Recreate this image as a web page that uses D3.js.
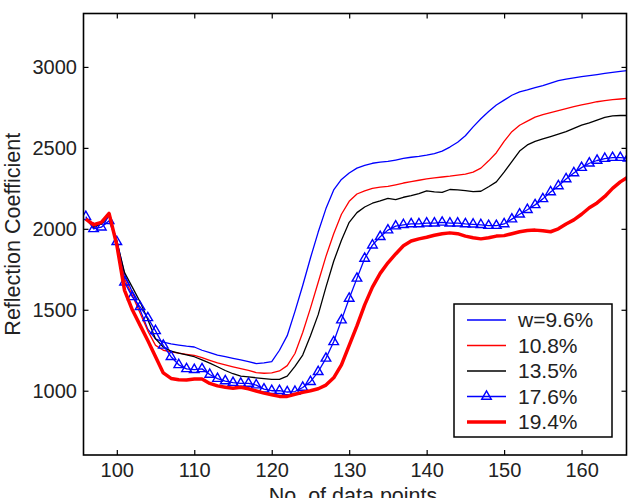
<!DOCTYPE html>
<meta charset="utf-8">
<style>

body {
  margin: 0;
  background: #fff;
}

.axis text {
  font: 20px "Liberation Sans", Arial, sans-serif;
  fill: #222;
}

.axis line {
  stroke: #000;
  stroke-width: 1.2;
}

.axis path {
  display: none;
}

.label {
  font: 21.5px "Liberation Sans", Arial, sans-serif;
  fill: #222;
}

.legend text {
  font: 21px "Liberation Sans", Arial, sans-serif;
  fill: #222;
}

</style>
<svg width="629" height="498"></svg>
<script src="https://d3js.org/d3.v7.min.js"></script>
<script>

// sample positions (No. of data points)
var points = [96, 97, 98, 99, 100, 101, 102, 103, 104, 105, 106, 107, 108, 109, 110,
  111, 112, 113, 114, 115, 116, 117, 118, 119, 120, 121, 122, 123, 124, 125,
  126, 127, 128, 129, 130, 131, 132, 133, 134, 135, 136, 137, 138, 139, 140,
  141, 142, 143, 144, 145, 146, 147, 148, 149, 150, 151, 152, 153, 154, 155,
  156, 157, 158, 159, 160, 161, 162, 163, 164, 165, 166];

var w96 = [2065, 2010, 2030, 2080, 1930, 1720, 1610, 1500, 1380, 1320, 1300, 1290, 1282, 1275, 1270,
  1250, 1235, 1220, 1210, 1200, 1190, 1180, 1168, 1172, 1180, 1250, 1340, 1490, 1650, 1820,
  1980, 2125, 2240, 2305, 2345, 2375, 2392, 2405, 2412, 2416, 2425, 2435, 2442, 2447, 2455,
  2465, 2480, 2505, 2535, 2575, 2630, 2680, 2725, 2765, 2795, 2825, 2846, 2858, 2872, 2885,
  2900, 2915, 2925, 2933, 2940, 2946, 2953, 2960, 2966, 2972, 2978];

var w108 = [2060, 2010, 2030, 2085, 1920, 1690, 1590, 1480, 1370, 1280, 1250, 1240, 1232, 1225, 1218,
  1205, 1188, 1172, 1160, 1148, 1136, 1125, 1112, 1108, 1110, 1122, 1155, 1230, 1360, 1510,
  1670, 1830, 1970, 2090, 2170, 2215, 2235, 2250, 2258, 2262, 2272, 2283, 2292, 2300, 2308,
  2315, 2320, 2325, 2332, 2338, 2350, 2375, 2420, 2470, 2540, 2600, 2640, 2665, 2690, 2705,
  2718, 2730, 2742, 2755, 2765, 2775, 2785, 2792, 2798, 2802, 2806];

var w135 = [2060, 2010, 2030, 2085, 1920, 1730, 1640, 1550, 1440, 1320, 1270, 1245, 1232, 1222, 1210,
  1190, 1170, 1148, 1125, 1105, 1090, 1085, 1080, 1075, 1070, 1070, 1090, 1150, 1220, 1340,
  1470, 1640, 1800, 1930, 2040, 2100, 2135, 2158, 2172, 2188, 2180, 2195, 2205, 2218, 2235,
  2228, 2225, 2243, 2240, 2236, 2230, 2232, 2260, 2290, 2350, 2415, 2480, 2518, 2540, 2555,
  2570, 2585, 2600, 2620, 2640, 2655, 2672, 2688, 2698, 2700, 2700];

var w176 = [2075, 2000, 2010, 2050, 1920, 1670, 1580, 1518, 1450, 1370, 1280, 1210, 1160, 1135, 1130,
  1135, 1100, 1075, 1060, 1050, 1045, 1045, 1035, 1010, 1000, 1000, 992, 995, 1020, 1056,
  1117, 1200, 1302, 1436, 1570, 1694, 1817, 1899, 1951, 1992, 2017, 2025, 2030, 2030, 2035,
  2035, 2040, 2035, 2035, 2030, 2028, 2025, 2020, 2020, 2030, 2060, 2090, 2118, 2148, 2185,
  2228, 2265, 2308, 2345, 2378, 2405, 2422, 2434, 2440, 2440, 2436];

var w194 = [2060, 2025, 2040, 2095, 1900, 1620, 1500, 1405, 1310, 1210, 1110, 1076, 1068, 1066, 1072,
  1072, 1045, 1030, 1022, 1015, 1022, 1012, 998, 985, 975, 965, 965, 978, 990, 1000,
  1012, 1035, 1080, 1160, 1280, 1400, 1530, 1640, 1725, 1790, 1845, 1895, 1925, 1938, 1948,
  1960, 1970, 1975, 1970, 1955, 1945, 1938, 1945, 1955, 1958, 1970, 1982, 1990, 1992, 1988,
  1982, 2000, 2030, 2055, 2090, 2130, 2160, 2200, 2250, 2290, 2320];

var xTicks = [100, 110, 120, 130, 140, 150, 160],
    yTicks = [1000, 1500, 2000, 2500, 3000];

var seriesNames = ["w=9.6%", "10.8%", "13.5%", "17.6%", "19.4%"];

var svg = d3.select("svg"),
    margin = {top: 13.5, right: 2.5, bottom: 43, left: 83.5},
    width = svg.attr("width") - margin.left - margin.right,
    height = svg.attr("height") - margin.top - margin.bottom;

var x = d3.scaleLinear()
    .domain([95.7, 165.8])
    .range([0, width]);

var y = d3.scaleLinear()
    .domain([603, 3330])
    .range([height, 0]);

var series = [
  {name: seriesNames[0], values: w96, color: "#0000ff", width: 1.3, marker: false},
  {name: seriesNames[1], values: w108, color: "#ff0000", width: 1.3, marker: false},
  {name: seriesNames[2], values: w135, color: "#000000", width: 1.3, marker: false},
  {name: seriesNames[3], values: w176, color: "#0000ff", width: 1.3, marker: true},
  {name: seriesNames[4], values: w194, color: "#ff0000", width: 3.5, marker: false}
];

var g = svg.append("g")
    .attr("transform", "translate(" + margin.left + "," + margin.top + ")");

g.append("clipPath")
    .attr("id", "clip")
  .append("rect")
    .attr("width", width)
    .attr("height", height);

var line = d3.line()
    .x(function(d) { return x(d[0]); })
    .y(function(d) { return y(d[1]); });

var tri = d3.symbol().type(d3.symbolTriangle).size(40);

var plot = g.append("g")
    .attr("clip-path", "url(#clip)");

series.forEach(function(s) {
  var data = points.map(function(p, i) { return [p, s.values[i]]; });

  plot.append("path")
      .datum(data)
      .attr("fill", "none")
      .attr("stroke", s.color)
      .attr("stroke-width", s.width)
      .attr("stroke-linejoin", "round")
      .attr("d", line);

  if (s.marker) {
    plot.append("g").selectAll("path")
        .data(data)
      .enter().append("path")
        .attr("transform", function(d) { return "translate(" + x(d[0]) + "," + y(d[1]) + ")"; })
        .attr("d", tri)
        .attr("fill", "none")
        .attr("stroke", s.color)
        .attr("stroke-width", 1.4);
  }
});

// axes, ticks pointing inward
g.append("g")
    .attr("class", "axis")
    .attr("transform", "translate(0," + height + ")")
    .call(d3.axisBottom(x).tickValues(xTicks).tickSize(-5).tickPadding(8));

g.append("g")
    .attr("class", "axis")
    .call(d3.axisTop(x).tickValues(xTicks).tickSize(-5).tickFormat(""));

g.append("g")
    .attr("class", "axis")
    .call(d3.axisLeft(y).tickValues(yTicks).tickSize(-5).tickPadding(6.5).tickFormat(d3.format("d")));

g.append("g")
    .attr("class", "axis")
    .attr("transform", "translate(" + width + ",0)")
    .call(d3.axisRight(y).tickValues(yTicks).tickSize(-5).tickFormat(""));

g.append("rect")
    .attr("width", width)
    .attr("height", height)
    .attr("fill", "none")
    .attr("stroke", "#000")
    .attr("stroke-width", 1.6);

svg.append("text")
    .attr("class", "label")
    .attr("transform", "translate(20," + (margin.top + height / 2) + ") rotate(-90)")
    .attr("text-anchor", "middle")
    .text("Reflection Coefficient");

svg.append("text")
    .attr("class", "label")
    .attr("x", 353)
    .attr("y", 503)
    .attr("text-anchor", "middle")
    .text("No. of data points");

// legend
var legend = svg.append("g")
    .attr("class", "legend")
    .attr("transform", "translate(454,304)");

legend.append("rect")
    .attr("width", 158)
    .attr("height", 133)
    .attr("fill", "#fff")
    .attr("stroke", "#000")
    .attr("stroke-width", 1.5);

var item = legend.selectAll(".item")
    .data(series)
  .enter().append("g")
    .attr("class", "item")
    .attr("transform", function(d, i) { return "translate(0," + (16 + i * 25.5) + ")"; });

item.append("line")
    .attr("x1", 13)
    .attr("x2", 52)
    .attr("stroke", function(d) { return d.color; })
    .attr("stroke-width", function(d) { return d.width; });

item.filter(function(d) { return d.marker; })
  .append("path")
    .attr("transform", "translate(32.5,0)")
    .attr("d", tri)
    .attr("fill", "none")
    .attr("stroke", function(d) { return d.color; })
    .attr("stroke-width", 1.4);

item.append("text")
    .attr("x", 64)
    .attr("dy", "0.35em")
    .text(function(d) { return d.name; });

</script>
